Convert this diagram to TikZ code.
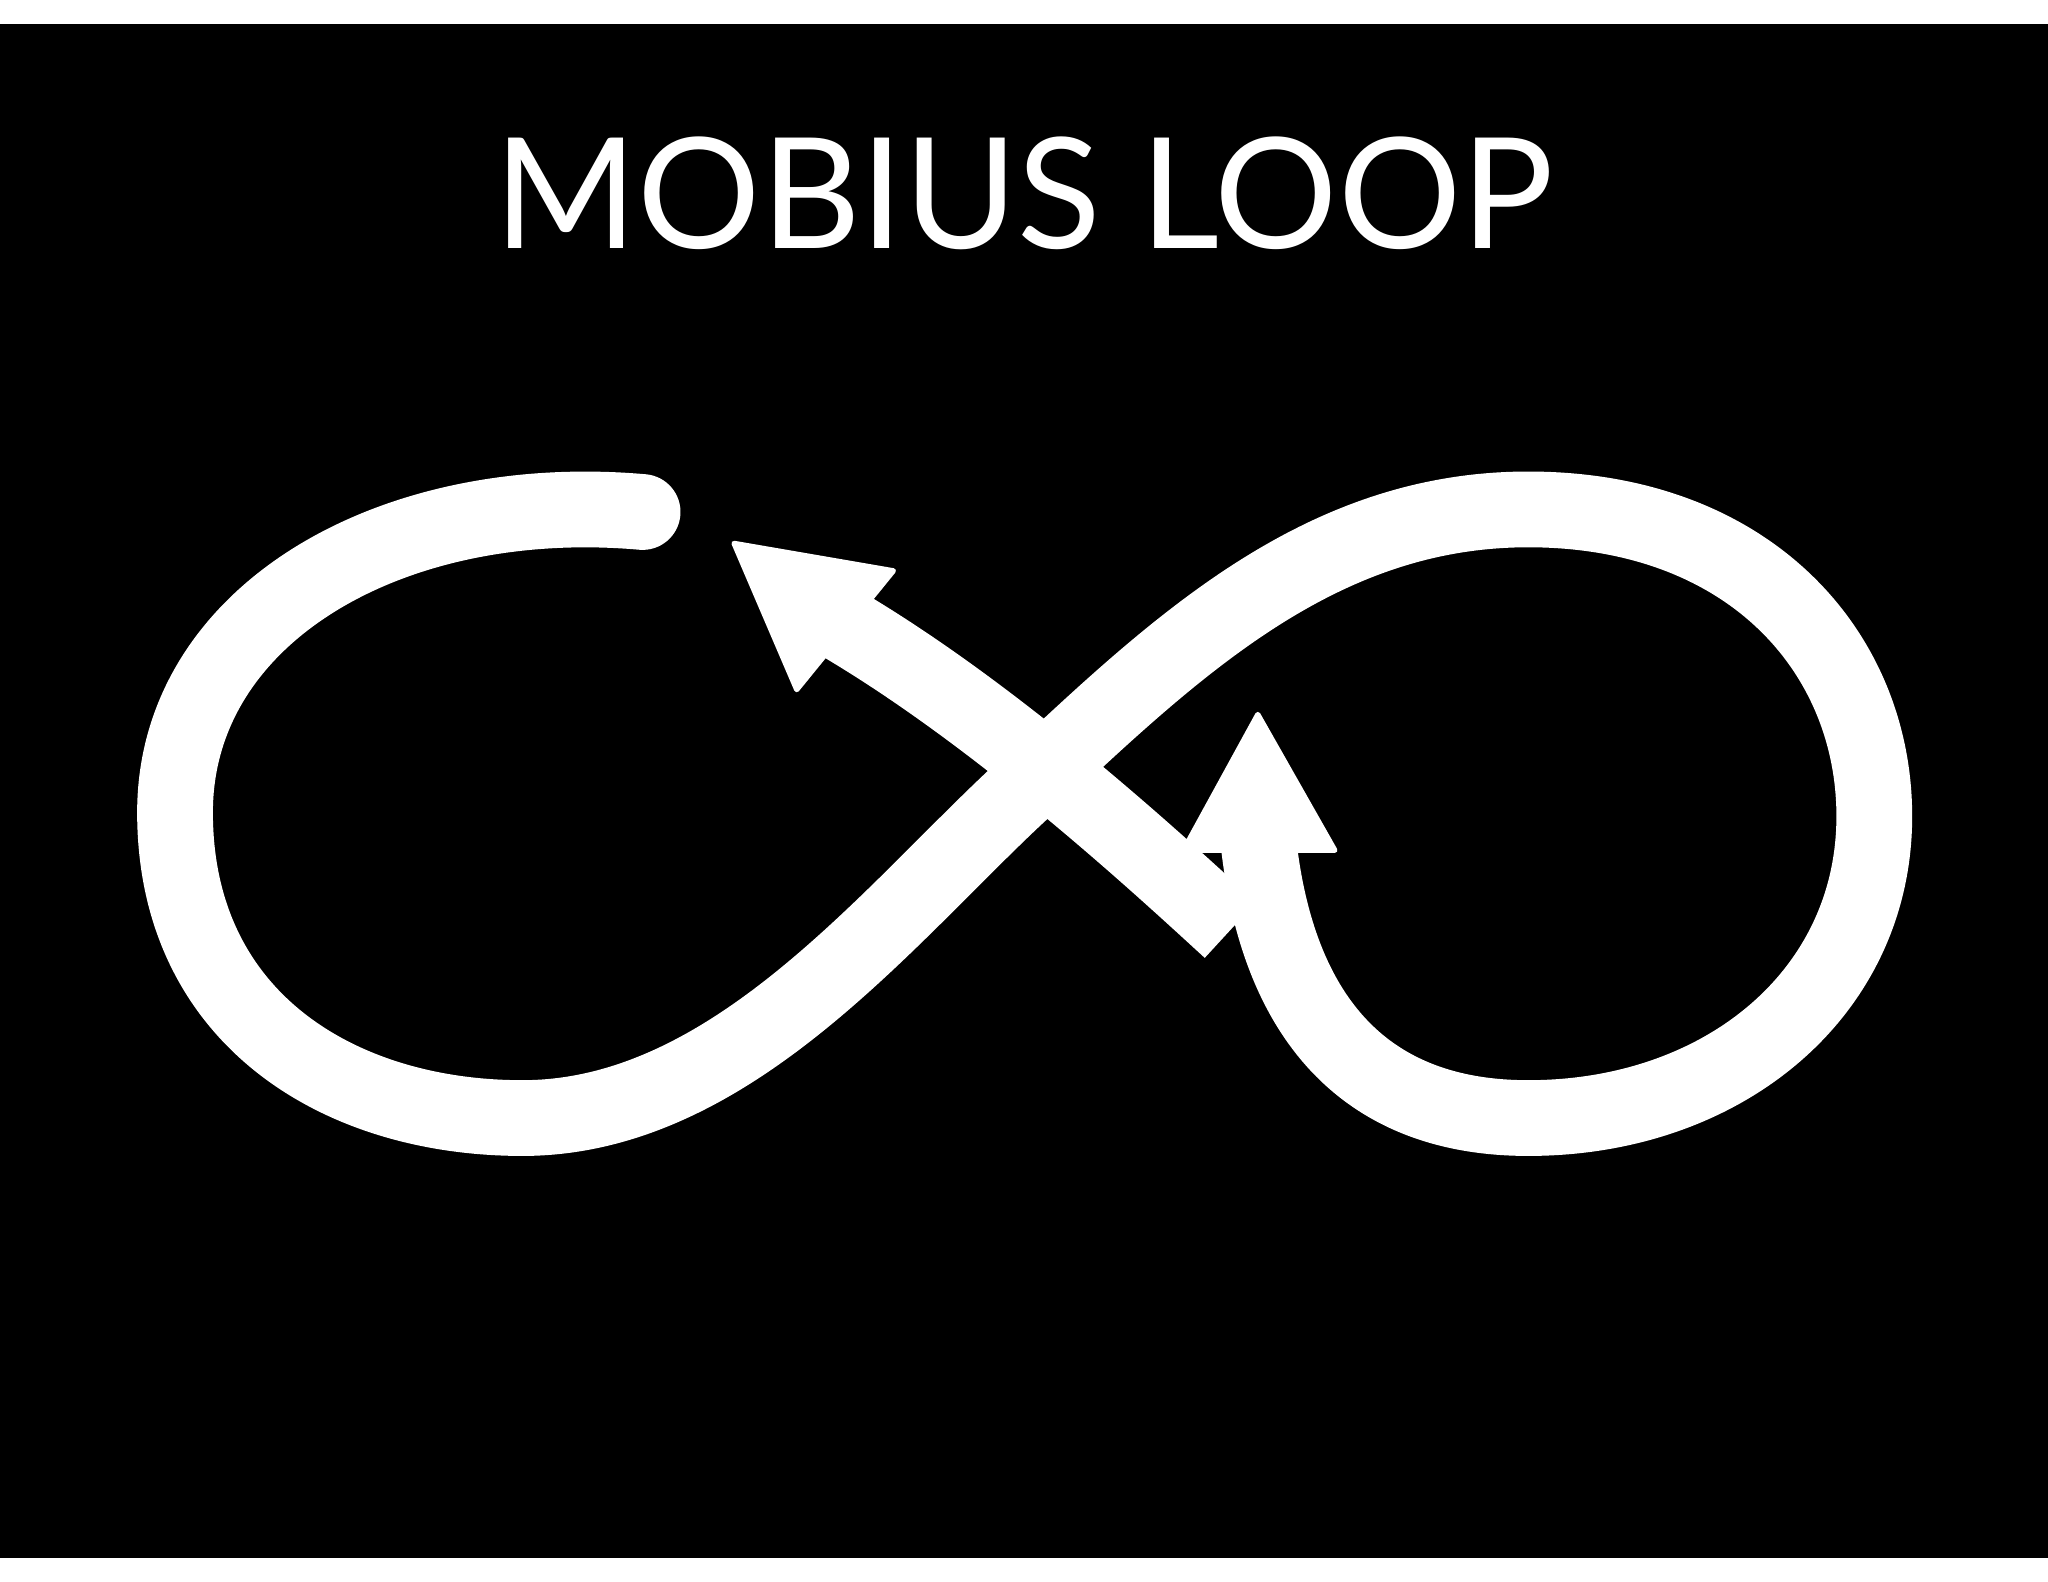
\documentclass[tikz,border=0pt]{standalone}
\usepackage{fontspec}
\setmainfont{Lato}
\begin{document}
\begin{tikzpicture}[x=1pt,y=-1pt,band/.style={white,line width=58pt,line cap=round,line join=round},head/.style={fill=white,draw=white,line width=4pt,line join=round}]
\fill[white] (0,0) rectangle (1568,1211);
\fill[black] (0,18) rectangle (1568,1193);
\useasboundingbox (0,0) rectangle (1568,1211);
\node[white,font=\fontsize{118}{130}\selectfont] (title) at (784,148) {MOBIUS LOOP};
\draw[band] (492,392) .. controls (300,375) and (134,470) .. (134,622)
  .. controls (134,780) and (260,856) .. (400,856)
  .. controls (560,856) and (680,700) .. (783,605)
  .. controls (900,495) and (1010,390) .. (1170,390)
  .. controls (1340,390) and (1435,500) .. (1435,625)
  .. controls (1435,760) and (1320,856) .. (1170,856)
  .. controls (1030,856) and (975,760) .. (963,640);
\draw[band,line cap=butt] (942,712) .. controls (880,655) and (760,545) .. (640,475);
\coordinate (t1) at (562,416);
\coordinate (t2) at (963,547);
\draw[head] (t1) -- (684,437) -- (610,528) -- cycle;
\draw[head] (t2) -- (1022,651) -- (906,651) -- cycle;
\end{tikzpicture}
\end{document}
